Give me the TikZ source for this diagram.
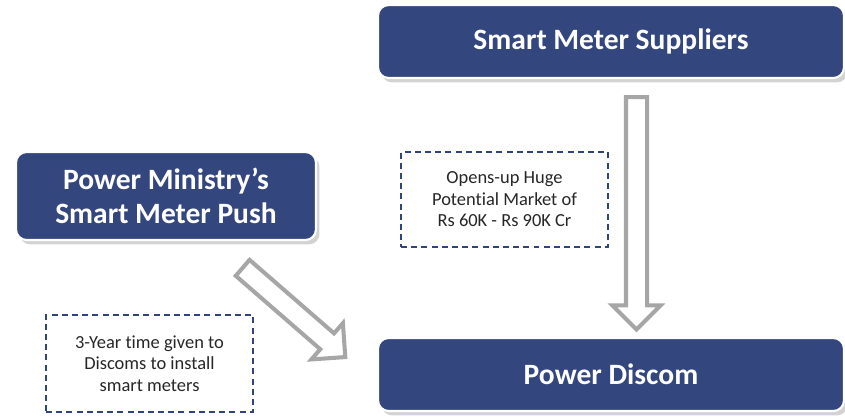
\documentclass[tikz,border=0pt]{standalone}
\usepackage{fontspec}
\setmainfont{Carlito}[Ligatures=NoCommon]
\usetikzlibrary{positioning, calc, shapes.arrows, shadows}

\definecolor{boxblue}{RGB}{52,70,126}
\definecolor{dashblue}{RGB}{47,68,125}
\definecolor{arrowgray}{RGB}{166,166,166}

\tikzset{
    bluebox/.style={rectangle, rounded corners=6pt, fill=boxblue, draw=white,
        line width=1.2pt, text=white, align=center,
        font=\bfseries\fontsize{16.8}{19.3}\selectfont,
        drop shadow={shadow xshift=2pt, shadow yshift=-2.5pt, opacity=.35}},
    notebox/.style={rectangle, draw=dashblue, line width=1.1pt,
        dash pattern=on 3.4pt off 2.4pt, align=center, text=black!85,
        font=\fontsize{10.5}{12.2}\selectfont,
        minimum width=4.14cm},
    blockarrow/.style={single arrow, draw=arrowgray, fill=white,
        line width=2.3pt, inner xsep=0pt, inner ysep=0.17cm,
        single arrow head extend=0.27cm,
        single arrow tip angle=90}
}

\begin{document}
\begin{tikzpicture}[x=0.02cm, y=-0.02cm]
    \useasboundingbox (0,0) rectangle (845,416);

    % main boxes
    \node[bluebox, minimum width=9.32cm, minimum height=1.46cm] (sup) at (611,41.5) {Smart Meter Suppliers};
    \node[bluebox, minimum width=9.32cm, minimum height=1.46cm] (disc) at (611,374.5) {Power Discom};
    \node[bluebox, minimum width=6cm, minimum height=1.76cm] (push) at (166,196) {Power Ministry’s\\Smart Meter Push};

    % notes
    \node[notebox, minimum height=1.9cm] (market) at (504.5,199.5) {Opens-up Huge\\Potential Market of\\Rs 60K - Rs 90K Cr};
    \node[notebox, minimum height=1.94cm] (deadline) at (149.5,363.5) {3-Year time given to\\Discoms to install\\smart meters};

    % block arrows
    \node[blockarrow, rotate=-90, minimum height=4.65cm] (down)
        at ($(sup.south)!0.5!(disc.north)+(25.5,0)$) {};
    \node[blockarrow, rotate=-41, minimum height=2.72cm] (diag)
        at (290,309) {};
\end{tikzpicture}
\end{document}
